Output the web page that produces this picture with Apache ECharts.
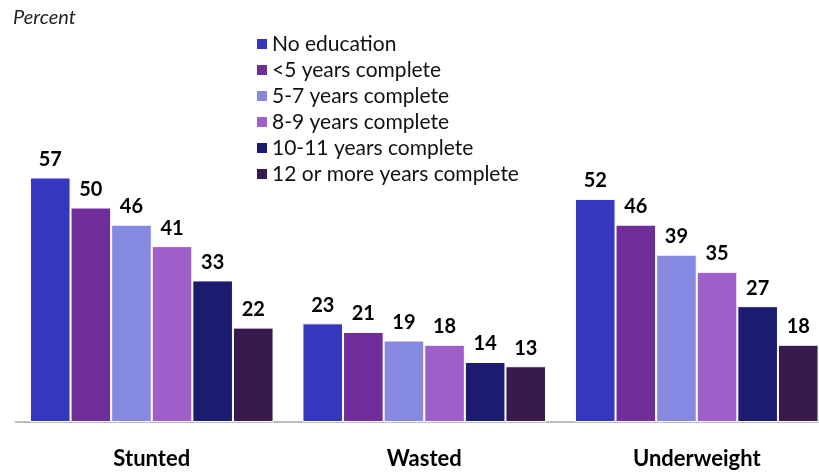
<!DOCTYPE html>
<html><head><meta charset="utf-8">
<script src="https://cdn.jsdelivr.net/npm/echarts@6/dist/echarts.min.js"></script>
<style>html,body{margin:0;padding:0;background:#fff;overflow:hidden}#c{width:833px;height:474px}</style>
</head><body><div id="c"></div>
<script>
const categories = ['Stunted', 'Wasted', 'Underweight'];
const seriesNames = ['No education', '<5 years complete', '5-7 years complete', '8-9 years complete', '10-11 years complete', '12 or more years complete'];
const noEducation = [57, 23, 52];
const lt5Years = [50, 21, 46];
const years5to7 = [46, 19, 39];
const years8to9 = [41, 18, 35];
const years10to11 = [33, 14, 27];
const years12plus = [22, 13, 18];
const seriesData = [noEducation, lt5Years, years5to7, years8to9, years10to11, years12plus];
const colors = ['#3538BD', '#6F2E9A', '#8689E0', '#9F5FCB', '#1B1C6F', '#381A4F'];
const FONT = 'Lato, "Open Sans", sans-serif';

const chart = echarts.init(document.getElementById('c'));
chart.setOption({
  animation: false,
  color: colors,
  textStyle: {fontFamily: FONT},
  title: {text: 'Percent', left: 8, top: 3, textStyle: {fontFamily: FONT, fontStyle: 'italic', fontWeight: 'normal', fontSize: 20, color: '#222'}},
  legend: {
    orient: 'vertical', left: 250, top: 28.5, itemWidth: 12, itemHeight: 12, itemGap: 5,
    icon: 'rect',
    textStyle: {fontFamily: FONT, fontSize: 21, color: '#111', padding: [0, 0, 0, -1]},
    data: seriesNames
  },
  grid: {left: 15.5, right: 0, top: 164.6, bottom: 52},
  xAxis: {
    type: 'category', data: categories,
    axisTick: {show: false},
    axisLine: {lineStyle: {color: '#a6a6a6', width: 1.5}},
    axisLabel: {fontFamily: FONT, fontWeight: 'bold', fontSize: 22, color: '#000', margin: 26}
  },
  yAxis: {type: 'value', min: 0, max: 60, show: false, splitLine: {show: false}},
  series: seriesNames.map((n, i) => ({
    name: n, type: 'bar', data: seriesData[i],
    barGap: '0%', barCategoryGap: '10.6%',
    itemStyle: {color: colors[i], borderColor: '#fff', borderWidth: 1},
    label: {show: true, position: 'top', distance: 8, fontFamily: FONT, fontWeight: 'bold', fontSize: 20, color: '#000'}
  }))
});
</script></body></html>
